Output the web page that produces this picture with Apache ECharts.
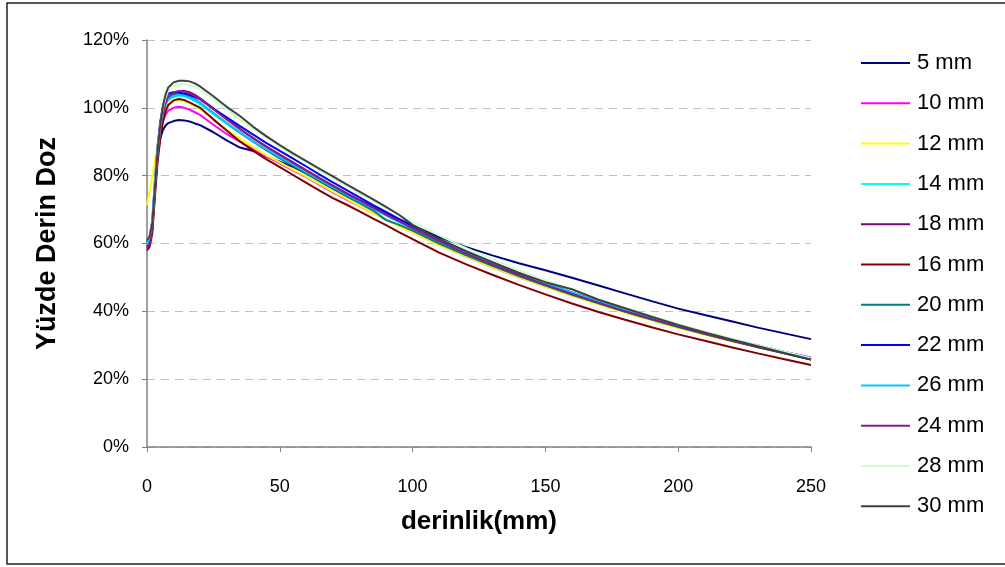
<!DOCTYPE html>
<html>
<head>
<meta charset="utf-8">
<script src="https://cdn.jsdelivr.net/npm/echarts@6/dist/echarts.min.js"></script>
<style>
  html, body { margin: 0; padding: 0; background: #fff; }
  #chart { width: 1005px; height: 567px; }
</style>
</head>
<body>
<div id="chart"></div>
<script>
// derinlik (mm)
var depth = [0, 1, 2, 3, 4, 5, 6, 7, 8, 10, 12, 14, 16, 18, 20, 25, 30, 35, 40, 45, 50, 55, 60, 65, 70, 75, 80, 85, 90, 95, 100,
  110, 120, 130, 140, 150, 160, 170, 180, 190, 200, 210, 220, 230, 240, 250];

// yuzde derin doz (%) - one array per field size
var s5 = [60.5, 61.5, 66, 77, 86, 91, 93.5, 94.8, 95.5, 96.1, 96.4, 96.3, 96, 95.4, 94.9, 92.8, 90.4, 88.3, 87.3, 85.6, 84.1, 82.6, 80.7, 78.6, 76.6, 74.7, 72.8, 70.9, 68.9, 67.1, 65.3,
  61.9, 59, 56.5, 54.2, 52.1, 49.9, 47.6, 45.3, 43, 40.8, 38.9, 37.1, 35.2, 33.5, 31.8];
var s10 = [59, 60, 65, 76, 86, 92, 96, 98, 99.2, 100, 100.3, 100, 99.5, 98.7, 97.9, 95, 92.3, 90, 87.8, 85.6, 83.6, 81.6, 79.6, 77.3, 75.1, 73, 71, 69, 67.1, 65.1, 63.3,
  59.6, 56.2, 53, 50, 47.3, 44.7, 42.2, 39.8, 37.5, 35.3, 33.3, 31.4, 29.6, 28, 26.4];
var s12 = [71.3, 75.5, 80, 84.5, 89, 93.5, 97.5, 99.8, 101, 101.9, 102.2, 102, 101.4, 100.6, 99.7, 96.6, 93.6, 90.9, 88.4, 86, 83.9, 81.8, 79.7, 77.5, 75.3, 73.2, 71.1, 69, 67, 65, 63.2,
  59.5, 56.2, 53, 50, 47.2, 44.6, 42, 39.6, 37.3, 35.1, 33.1, 31.2, 29.4, 27.6, 25.9];
var s14 = [60, 61, 66, 78, 87, 94, 98.5, 101, 102.3, 103.2, 103.6, 103.4, 102.8, 102, 101, 98.2, 95.3, 92.6, 90, 87.6, 85.3, 83.1, 81, 78.8, 76.6, 74.4, 72.3, 70.2, 68.2, 66.2, 64.3,
  60.6, 57.1, 53.9, 50.9, 48.1, 45.5, 42.9, 40.4, 38.1, 35.8, 33.7, 31.7, 29.8, 27.9, 26.1];
var s18 = [59, 60, 64.5, 76, 86, 93.5, 98.5, 101.5, 103, 104.3, 104.8, 105, 104.6, 103.8, 102.8, 99.8, 96.7, 93.8, 91.1, 88.6, 86.2, 83.9, 81.6, 79.3, 77.1, 74.9, 72.8, 70.7, 68.6, 66.6, 64.6,
  60.8, 57.3, 54, 51, 48.1, 45.4, 42.8, 40.3, 38, 35.7, 33.6, 31.5, 29.6, 27.7, 25.9];
var s16 = [58, 59, 63, 74, 84, 91, 96, 99, 100.8, 102.2, 102.6, 102.3, 101.6, 100.8, 100, 96.6, 93.3, 90.1, 87.3, 84.8, 82.5, 80.2, 77.9, 75.6, 73.4, 71.5, 69.5, 67.4, 65.4, 63.3, 61.3,
  57.3, 53.9, 50.8, 47.8, 45, 42.3, 39.8, 37.5, 35.3, 33.2, 31.3, 29.4, 27.6, 25.9, 24.2];
var s20 = [60, 61, 65.5, 77, 87, 94, 98.5, 101.3, 102.8, 103.8, 104.1, 103.8, 103.2, 102.4, 101.5, 98.5, 95.5, 92.7, 90, 87.5, 85.1, 82.9, 80.6, 78.3, 76.1, 74, 71.9, 69.8, 66.9, 65.5, 63.8,
  60, 56.6, 53.4, 50.4, 47.6, 44.9, 42.4, 39.9, 37.6, 35.4, 33.3, 31.3, 29.4, 27.6, 25.8];
var s22 = [61, 62, 67, 79, 89, 96, 100.5, 103, 104.2, 104.6, 104.5, 104.2, 103.8, 103.2, 102.5, 99.8, 97.2, 94.6, 92.1, 89.6, 87.3, 85, 82.7, 80.3, 78, 75.8, 73.6, 71.4, 69.3, 67.2, 65.2,
  61.3, 57.7, 54.4, 51.3, 48.4, 45.6, 43, 40.5, 38.2, 35.9, 33.8, 31.8, 29.9, 28, 26.2];
var s26 = [60, 61, 65.5, 77.5, 87, 94, 98.5, 101, 102.5, 103.5, 103.8, 103.6, 103, 102.2, 101.3, 98.4, 95.5, 92.8, 90.2, 87.8, 85.5, 83.3, 81.1, 78.9, 76.7, 74.6, 72.5, 70.4, 68.4, 66.4, 64.5,
  60.8, 57.3, 54.1, 51.1, 48.3, 45.6, 43, 40.5, 38.2, 35.9, 33.8, 31.8, 29.9, 28, 26.2];
var s24 = [58.5, 59.5, 64, 75.5, 86, 93.5, 98.5, 101.5, 103.3, 104.5, 105, 104.8, 104.3, 103.5, 102.6, 99.6, 96.6, 93.7, 91, 88.5, 86.1, 83.8, 81.5, 79.2, 77, 74.8, 72.7, 70.6, 68.5, 66.5, 64.5,
  60.7, 57.1, 53.8, 50.7, 47.8, 45.1, 42.5, 40, 37.7, 35.5, 33.4, 31.4, 29.5, 27.6, 25.8];
var s28 = [61, 62, 66.5, 78, 88, 95, 100, 103, 105, 106.5, 107, 107, 106.8, 106.2, 105.4, 102.6, 99.6, 96.6, 93.8, 91.2, 88.6, 86.2, 83.9, 81.5, 79.2, 77, 74.8, 72.6, 70.5, 68.4, 66.4,
  62.4, 58.7, 55.3, 52.1, 49.1, 46.3, 43.6, 41, 38.6, 36.3, 34.1, 32, 30, 28.1, 26.2];
var s30 = [61, 62, 66, 77, 87.5, 95, 100.5, 104, 106, 107.5, 108, 108, 107.8, 107.2, 106.3, 103.4, 100.3, 97.6, 94.4, 91.6, 89, 86.6, 84.3, 82, 79.8, 77.5, 75.3, 73.1, 70.8, 68.4, 65.5,
  61.3, 57.8, 54.5, 51.3, 48.6, 46.5, 43.4, 40.9, 38.4, 36, 33.8, 31.7, 29.7, 27.7, 25.8];

var yTicks = [0, 20, 40, 60, 80, 100, 120];

var names = ['5 mm', '10 mm', '12 mm', '14 mm', '18 mm', '16 mm', '20 mm', '22 mm', '26 mm', '24 mm', '28 mm', '30 mm'];
var values = [s5, s10, s12, s14, s18, s16, s20, s22, s26, s24, s28, s30];
var colors = ['#000080', '#FF00FF', '#FFFF00', '#00FFFF', '#800080', '#800000', '#008080', '#0000FF', '#00CCFF', '#8B1A8B', '#CCFFCC', '#404040'];

function pairs(arr) {
  return depth.map(function (d, i) { return [d, arr[i]]; });
}

var series = names.map(function (n, i) {
  return {
    name: n,
    type: 'line',
    symbol: 'none',
    data: pairs(values[i]),
    lineStyle: { width: 2, color: colors[i] },
    itemStyle: { color: colors[i] },
    emphasis: { disabled: true },
    animation: false
  };
});

var chart = echarts.init(document.getElementById('chart'), null, { renderer: 'canvas' });

var font = '"Liberation Sans", Arial, sans-serif';

var option = {
  backgroundColor: '#fff',
  animation: false,
  textStyle: { fontFamily: font },
  graphic: [{
    type: 'rect',
    shape: { x: 7, y: 3, width: 1010, height: 561 },
    style: { fill: 'none', stroke: '#222', lineWidth: 1.5 },
    silent: true
  }],
  grid: { left: 147, right: 194, top: 40, bottom: 120 },
  legend: {
    orient: 'vertical',
    left: 861,
    top: 52,
    padding: 0,
    icon: 'rect',
    itemWidth: 49,
    itemHeight: 2,
    itemGap: 18.3,
    data: names,
    textStyle: { fontSize: 22, lineHeight: 22, color: '#000', fontFamily: font, padding: [0, 0, 0, 2] },
    selectedMode: false
  },
  xAxis: {
    type: 'value',
    min: 0,
    max: 250,
    interval: 50,
    name: 'derinlik(mm)',
    nameLocation: 'middle',
    nameGap: 62,
    nameTextStyle: { fontSize: 26, fontWeight: 'bold', color: '#000', fontFamily: font },
    axisLine: { show: true, lineStyle: { color: '#808080', width: 1.5 } },
    axisTick: { show: true, length: 5, lineStyle: { color: '#808080' } },
    axisLabel: { fontSize: 18, color: '#000', margin: 31, fontFamily: font },
    splitLine: { show: false }
  },
  yAxis: {
    type: 'value',
    min: yTicks[0],
    max: yTicks[yTicks.length - 1],
    interval: 20,
    name: 'Yüzde Derin Doz',
    nameLocation: 'middle',
    nameGap: 86,
    nameRotate: 90,
    nameTextStyle: { fontSize: 27, fontWeight: 'bold', color: '#000', fontFamily: font },
    axisLine: { show: true, lineStyle: { color: '#808080', width: 1.5 } },
    axisTick: { show: true, length: 5, lineStyle: { color: '#808080' } },
    axisLabel: { fontSize: 18, color: '#000', margin: 18, formatter: '{value}%', fontFamily: font },
    splitLine: { show: true, lineStyle: { color: '#C0C0C0', type: [8, 6], width: 1 } }
  },
  series: series
};

chart.setOption(option);
</script>
</body>
</html>
